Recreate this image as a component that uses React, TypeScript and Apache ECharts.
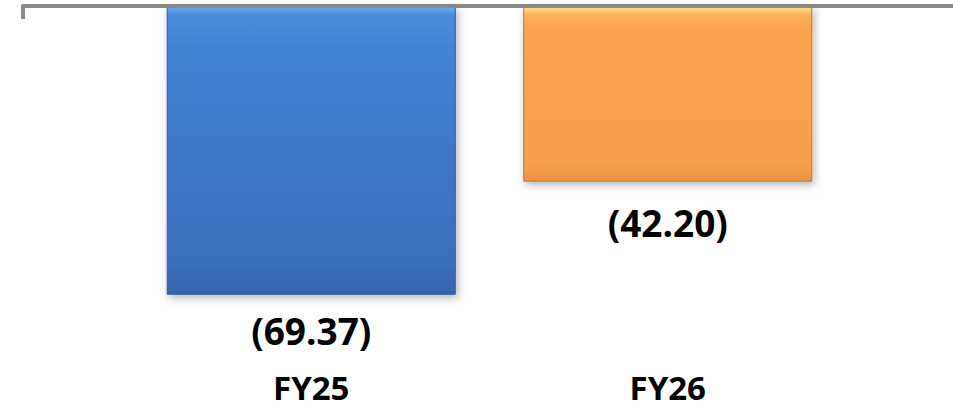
import React, { useEffect, useRef } from "react";
import * as echarts from "echarts";

const categories = ["FY25", "FY26"];
const values = [-69.37, -42.2];
const valueLabels = ["(69.37)", "(42.20)"];
const yMin = -80;
const yMax = 0;

const FONT = "'Open Sans', 'Liberation Sans', sans-serif";

export default function App() {
  const ref = useRef<HTMLDivElement>(null);
  useEffect(() => {
    if (!ref.current) return;
    const chart = echarts.init(ref.current, null, { renderer: "svg" });
    const blue = new echarts.graphic.LinearGradient(0, 0, 0, 1, [
      { offset: 0, color: "#6aaef0" },
      { offset: 0.03, color: "#4a8ddc" },
      { offset: 0.2, color: "#3f80d0" },
      { offset: 0.9, color: "#3a6fbb" },
      { offset: 1, color: "#3464ad" },
    ]);
    const orange = new echarts.graphic.LinearGradient(0, 0, 0, 1, [
      { offset: 0, color: "#ffe08e" },
      { offset: 0.05, color: "#fdb05a" },
      { offset: 0.15, color: "#fba24c" },
      { offset: 0.9, color: "#f99f4b" },
      { offset: 1, color: "#eb9244" },
    ]);
    const colors = [blue, orange];
    const borders = ["#30599a", "#c07634"];
    const distances = [17, 22];
    chart.setOption({
      animation: false,
      grid: [
        { left: 133, right: 107, top: 6, bottom: 71 },
        { left: 23, right: 0, top: 6, height: 20 },
      ],
      xAxis: [
        {
          type: "category",
          gridIndex: 0,
          data: categories,
          position: "top",
          axisLine: { show: false, onZero: false },
          axisTick: { show: false },
          axisLabel: { show: false },
        },
        {
          type: "category",
          gridIndex: 0,
          data: categories,
          position: "bottom",
          axisLine: { show: false, onZero: false },
          axisTick: { show: false },
          axisLabel: {
            margin: 33,
            fontFamily: FONT,
            fontWeight: "bold",
            fontSize: 33,
            lineHeight: 30,
            color: "#000",
          },
        },
        {
          type: "value",
          gridIndex: 1,
          min: 0,
          max: 10,
          position: "top",
          z: 10,
          axisLine: {
            show: true,
            onZero: false,
            lineStyle: { color: "#8a8a8a", width: 4 },
          },
          axisTick: {
            show: true,
            inside: true,
            length: 13,
            customValues: [0],
            lineStyle: { color: "#8a8a8a", width: 4 },
          },
          axisLabel: { show: false },
          splitLine: { show: false },
        },
      ],
      yAxis: [
        {
          type: "value",
          gridIndex: 0,
          min: yMin,
          max: yMax,
          show: false,
          splitLine: { show: false },
        },
        { type: "value", gridIndex: 1, show: false, splitLine: { show: false } },
      ],
      series: [
        {
          type: "bar",
          xAxisIndex: 0,
          yAxisIndex: 0,
          barWidth: 289,
          z: 1,
          data: values.map((v, i) => ({
            value: v,
            itemStyle: {
              color: colors[i],
              borderColor: borders[i],
              borderWidth: 1,
              shadowColor: "rgba(0,0,0,0.3)",
              shadowBlur: 8,
              shadowOffsetY: 3,
              shadowOffsetX: 2,
            },
            label: { distance: distances[i] },
          })),
          label: {
            show: true,
            position: "bottom",
            formatter: (p: any) => valueLabels[p.dataIndex],
            fontFamily: FONT,
            fontWeight: "bold",
            fontSize: 37,
            color: "#000",
          },
        },
      ],
    });
    return () => chart.dispose();
  }, []);
  return (
    <div
      ref={ref}
      style={{ position: "absolute", left: 0, top: 0, width: 953, height: 410 }}
    />
  );
}
